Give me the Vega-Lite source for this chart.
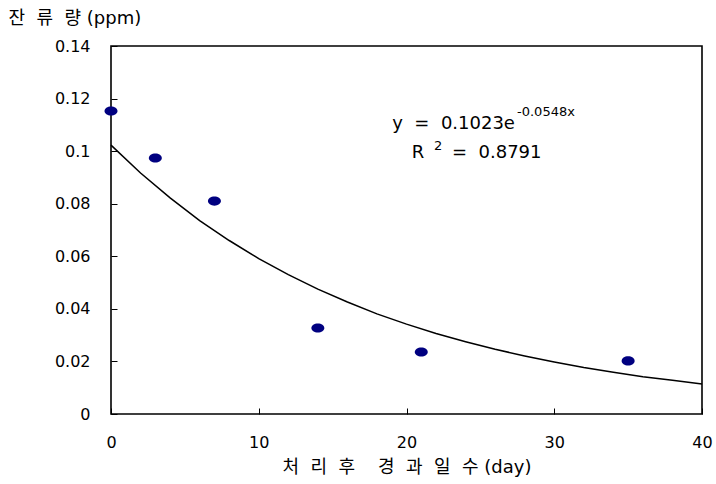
{
  "$schema": "https://vega.github.io/schema/vega-lite/v6.json",
  "width": 591,
  "height": 368,
  "autosize": {"type": "none"},
  "padding": {"left": 111, "top": 46, "right": 14, "bottom": 70},
  "background": "white",
  "config": {
    "view": {"stroke": "black", "strokeWidth": 1.6},
    "font": "DejaVu Sans, Noto Sans CJK KR",
    "axis": {
      "grid": false,
      "domain": false,
      "tickColor": "black",
      "tickWidth": 1,
      "labelColor": "black",
      "labelFont": "DejaVu Sans",
      "labelFontSize": 16,
      "labelFlush": false,
      "titleColor": "black",
      "titleFont": "DejaVu Sans, Noto Sans CJK KR",
      "titleFontSize": 18,
      "titleFontWeight": "normal"
    }
  },
  "datasets": {
    "obs": [
      {"day": 0, "ppm": 0.1153},
      {"day": 3, "ppm": 0.0974},
      {"day": 7, "ppm": 0.081},
      {"day": 14, "ppm": 0.0327},
      {"day": 21, "ppm": 0.0236},
      {"day": 35, "ppm": 0.0202}
    ],
    "fit": [
      {"day": 0, "ppm": 0.1023},
      {"day": 2, "ppm": 0.0917},
      {"day": 4, "ppm": 0.0822},
      {"day": 6, "ppm": 0.0736},
      {"day": 8, "ppm": 0.066},
      {"day": 10, "ppm": 0.0591},
      {"day": 12, "ppm": 0.053},
      {"day": 14, "ppm": 0.0475},
      {"day": 16, "ppm": 0.0426},
      {"day": 18, "ppm": 0.0381},
      {"day": 20, "ppm": 0.0342},
      {"day": 22, "ppm": 0.0306},
      {"day": 24, "ppm": 0.0275},
      {"day": 26, "ppm": 0.0246},
      {"day": 28, "ppm": 0.0221},
      {"day": 30, "ppm": 0.0198},
      {"day": 32, "ppm": 0.0177},
      {"day": 34, "ppm": 0.0159},
      {"day": 36, "ppm": 0.0142},
      {"day": 38, "ppm": 0.0128},
      {"day": 40, "ppm": 0.0114}
    ],
    "eqMain": [{"day": 27.34, "ppm": 0.1084, "label": "y\u00a0\u00a0=\u00a0\u00a00.1023e"}],
    "eqSup": [{"day": 27.48, "ppm": 0.1132, "label": "-0.0548x"}],
    "r2Main": [{"day": 21.2, "ppm": 0.0974, "label": "R"}],
    "r2Sup": [{"day": 21.86, "ppm": 0.1006, "label": "2"}],
    "r2Rest": [{"day": 23.08, "ppm": 0.0974, "label": "=\u00a0\u00a00.8791"}]
  },
  "encoding": {
    "x": {
      "field": "day",
      "type": "quantitative",
      "scale": {"domain": [0, 40], "nice": false, "zero": false},
      "axis": {
        "values": [0, 10, 20, 30, 40],
        "tickSize": -6,
        "labelPadding": 26,
        "title": "처\u00a0\u00a0리\u00a0\u00a0후\u00a0\u00a0\u00a0\u00a0경\u00a0\u00a0과\u00a0\u00a0일\u00a0\u00a0수\u00a0(day)",
        "titlePadding": 8
      }
    },
    "y": {
      "field": "ppm",
      "type": "quantitative",
      "scale": {"domain": [0, 0.14], "nice": false},
      "axis": {
        "values": [0, 0.02, 0.04, 0.06, 0.08, 0.1, 0.12, 0.14],
        "format": "~g",
        "tickSize": -6,
        "labelPadding": 27,
        "title": "잔\u00a0\u00a0류\u00a0\u00a0량\u00a0(ppm)",
        "titleAngle": 0,
        "titleAlign": "left",
        "titleBaseline": "middle",
        "titleX": -103,
        "titleY": -28
      }
    }
  },
  "layer": [
    {
      "data": {"name": "fit"},
      "mark": {"type": "line", "color": "black", "strokeWidth": 1.5}
    },
    {
      "data": {"name": "obs"},
      "mark": {
        "type": "point",
        "shape": "M -1 0 A 1 0.7 0 1 0 1 0 A 1 0.7 0 1 0 -1 0 Z",
        "size": 169,
        "filled": true,
        "color": "#000080",
        "opacity": 1
      }
    },
    {
      "data": {"name": "eqMain"},
      "mark": {"type": "text", "align": "right", "baseline": "alphabetic", "fontSize": 18, "font": "DejaVu Sans", "color": "black"},
      "encoding": {"text": {"field": "label"}}
    },
    {
      "data": {"name": "eqSup"},
      "mark": {"type": "text", "align": "left", "baseline": "alphabetic", "fontSize": 13, "font": "DejaVu Sans", "color": "black"},
      "encoding": {"text": {"field": "label"}}
    },
    {
      "data": {"name": "r2Main"},
      "mark": {"type": "text", "align": "right", "baseline": "alphabetic", "fontSize": 18, "font": "DejaVu Sans", "color": "black"},
      "encoding": {"text": {"field": "label"}}
    },
    {
      "data": {"name": "r2Sup"},
      "mark": {"type": "text", "align": "left", "baseline": "alphabetic", "fontSize": 13, "font": "DejaVu Sans", "color": "black"},
      "encoding": {"text": {"field": "label"}}
    },
    {
      "data": {"name": "r2Rest"},
      "mark": {"type": "text", "align": "left", "baseline": "alphabetic", "fontSize": 18, "font": "DejaVu Sans", "color": "black"},
      "encoding": {"text": {"field": "label"}}
    }
  ]
}
